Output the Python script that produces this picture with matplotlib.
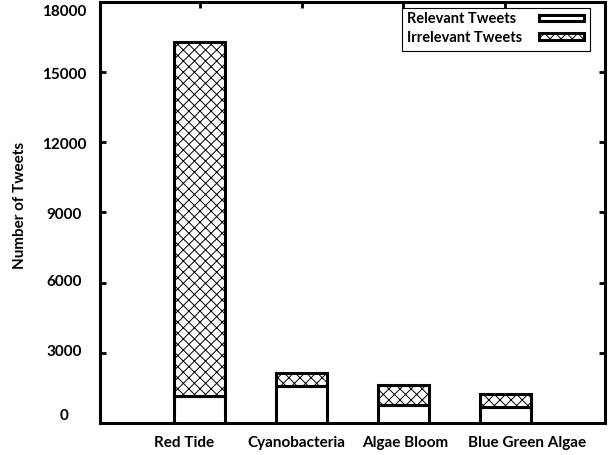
import numpy as np
import matplotlib
matplotlib.use("Agg")
import matplotlib.pyplot as plt
from matplotlib.patches import Rectangle
from matplotlib.transforms import ScaledTranslation

plt.rcParams['font.family'] = ['Lato', 'DejaVu Sans']
plt.rcParams['font.weight'] = 'bold'
plt.rcParams['hatch.linewidth'] = 0.7
plt.rcParams['hatch.color'] = '#555555'

# tweet counts per search keyword
categories = ['Red Tide', 'Cyanobacteria', 'Algae Bloom', 'Blue Green Algae']
relevant = [1170, 1580, 760, 700]
irrelevant = [15110, 550, 860, 530]
yticks = [0, 3000, 6000, 9000, 12000, 15000, 18000]

fig = plt.figure(figsize=(6.15, 4.56), dpi=100)
ax = fig.add_axes([0.1626, 0.0702, 0.8211, 0.9232])

x = np.arange(len(categories))
ax.bar(x, relevant, width=0.5, color='white', edgecolor='black',
       linewidth=2.2, zorder=3)
ax.bar(x, irrelevant, width=0.5, bottom=relevant, color='white',
       edgecolor='black', hatch='xxx', linewidth=2.2, zorder=3)

ax.set_xlim(-0.98, 3.98)
ax.set_ylim(0, 18000)
ax.set_yticks(yticks)
ax.set_yticklabels([str(v) for v in yticks])
ax.set_xticks(x)
ax.set_xticklabels(categories)

for s in ax.spines.values():
    s.set_linewidth(2.2)

ax.tick_params(axis='both', direction='in', length=4, width=2,
               top=True, right=True, labelsize=11)
ax.tick_params(axis='y', pad=26)
ax.tick_params(axis='x', pad=9)

# small per-label nudges (pixels)
y_shifts = [9, 3, 3, 0, 0, 0, -7]
for lbl, dy in zip(ax.get_yticklabels(), y_shifts):
    lbl.set_ha('center')
    lbl.set_transform(lbl.get_transform() + ScaledTranslation(0, dy / 100, fig.dpi_scale_trans))
x_shifts = [-16, -5, 2, 22]
for lbl, dx in zip(ax.get_xticklabels(), x_shifts):
    lbl.set_transform(lbl.get_transform() + ScaledTranslation(dx / 100, 0, fig.dpi_scale_trans))

ax.set_ylabel('Number of Tweets', fontsize=11, fontweight='bold')
ax.yaxis.set_label_coords(-0.145, 0.52)

# legend box: labels on the left, swatches on the right
ax.add_patch(Rectangle((0.598, 0.8836), 0.372, 0.1021, transform=ax.transAxes,
                       facecolor='white', edgecolor='black', linewidth=0.8, zorder=5))
legend_rows = [('Relevant Tweets', None, 0.962), ('Irrelevant Tweets', 'xxx', 0.918)]
for text, hatch, yc in legend_rows:
    ax.text(0.608, yc, text, transform=ax.transAxes, ha='left', va='center',
            fontsize=10.5, fontweight='bold', zorder=6)
    ax.add_patch(Rectangle((0.869, yc - 0.0075), 0.089, 0.015, transform=ax.transAxes,
                           facecolor='white', edgecolor='black', hatch=hatch,
                           linewidth=2.2, zorder=6))

fig.savefig('out.png', dpi=100)
